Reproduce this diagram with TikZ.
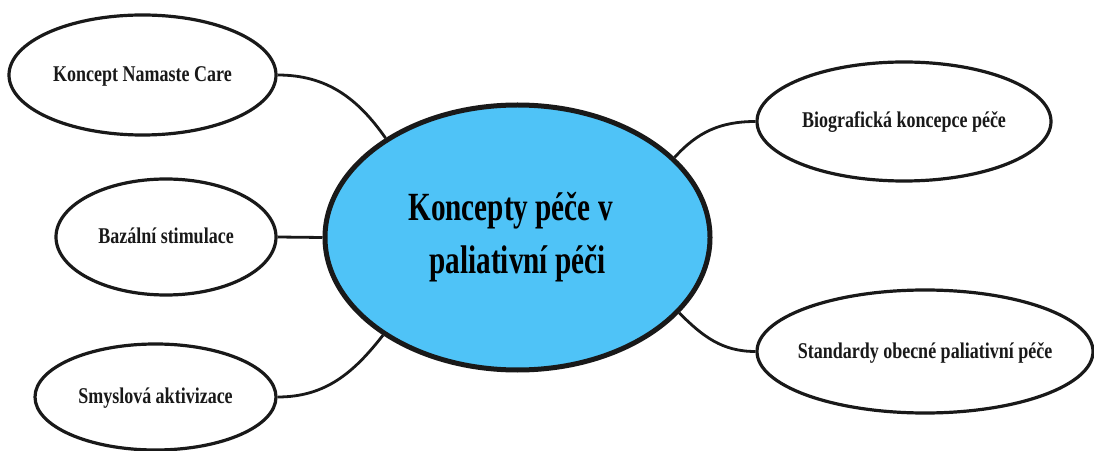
\documentclass[tikz,border=0pt]{standalone}
\usepackage{fontspec}
\setmainfont{Liberation Serif}
\newfontfamily\smallcond[FakeStretch=0.8]{Liberation Serif Bold}
\newfontfamily\bigcond[FakeStretch=0.73]{Liberation Serif Bold}
\usetikzlibrary{shapes.geometric}
\definecolor{cblue}{RGB}{79,195,247}
\definecolor{ink}{RGB}{25,25,25}
\newcommand{\lbl}[1]{\makebox[0pt][c]{#1}}
\begin{document}
\begin{tikzpicture}[x=1pt,y=1pt,
  leaf/.style={ellipse, draw=ink, line width=3.2pt, fill=white, inner sep=0pt,
    text=ink, font=\smallcond\fontsize{22.5}{27}\selectfont, text height=16pt, text depth=3pt},
  hub/.style={ellipse, draw=ink, line width=5pt, fill=cblue, inner sep=0pt,
    text=black, align=center, font=\bigcond\fontsize{40}{53}\selectfont},
  link/.style={line width=2.8pt, draw=ink}]
\useasboundingbox (0,0) rectangle (1094,450);
\node[hub, minimum width=385pt, minimum height=265pt] (c) at (517.5,212.5) {Koncepty péče v\hspace*{0.35em}\\paliativní péči};
\node[leaf, minimum width=267pt, minimum height=120pt] (n1) at (142.5,375) {\lbl{Koncept Namaste Care}};
\node[leaf, minimum width=220pt, minimum height=116pt] (n2) at (166,213) {\lbl{Bazální stimulace}};
\node[leaf, minimum width=241pt, minimum height=106pt] (n3) at (155.5,53) {\lbl{Smyslová aktivizace}};
\node[leaf, minimum width=294pt, minimum height=119pt] (n4) at (904,328.5) {\lbl{Biografická koncepce péče}};
\node[leaf, minimum width=336pt, minimum height=123pt] (n5) at (925,98.5) {\lbl{Standardy obecné paliativní péče}};
\draw[link] (n1.east) to[out=0,in=125] (c.143);
\draw[link] (n2.east) -- (c.west);
\draw[link] (n3.east) to[out=0,in=232] (c.216);
\draw[link] (c.27) to[out=48,in=180] (n4.west);
\draw[link] (c.335) to[out=-45,in=180] (n5.west);
\end{tikzpicture}
\end{document}
